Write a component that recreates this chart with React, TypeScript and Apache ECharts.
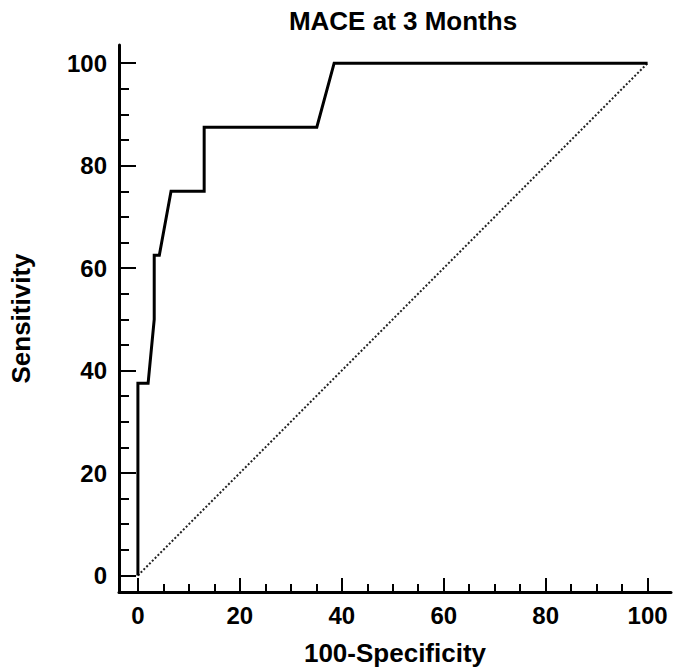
import React, { useEffect, useRef } from "react";
import * as echarts from "echarts";

const titleText = "MACE at 3 Months";
const xName = "100-Specificity";
const yName = "Sensitivity";

// ROC curve points (100-Specificity, Sensitivity)
const rocX = [0, 0, 2.0, 3.2, 3.2, 4.2, 6.5, 13.0, 13.0, 35.1, 38.5, 100];
const rocY = [0, 37.5, 37.5, 50, 62.5, 62.5, 75, 75, 87.5, 87.5, 100, 100];

// reference diagonal
const diagX = [0, 100];
const diagY = [0, 100];

const majorTicks = [0, 20, 40, 60, 80, 100];
const minorTicks = [5, 10, 15, 25, 30, 35, 45, 50, 55, 65, 70, 75, 85, 90, 95];

const FONT = "'Liberation Sans', Arial, sans-serif";

export default function App() {
  const ref = useRef<HTMLDivElement>(null);
  useEffect(() => {
    if (!ref.current) return;
    const chart = echarts.init(ref.current, null, { renderer: "svg" });
    const xMin = -3.71;
    const xMax = 104.59;
    const yMin = -3.23;
    const yMax = 103.55;
    const tickStyle = {
      fontFamily: FONT,
      fontWeight: "bold" as const,
      fontSize: 24,
      color: "#000",
    };
    const nameStyle = {
      fontFamily: FONT,
      fontWeight: "bold" as const,
      fontSize: 26,
      color: "#000",
    };
    const roc = rocX.map((x, i) => [x, rocY[i]]);
    const diag = diagX.map((x, i) => [x, diagY[i]]);
    chart.setOption({
      animation: false,
      backgroundColor: "#fff",
      title: {
        text: titleText,
        left: 398,
        textAlign: "center",
        top: 3,
        textStyle: { ...nameStyle },
      },
      grid: { left: 116, right: 2, top: 45, bottom: 78, containLabel: false },
      xAxis: [
        {
          type: "value",
          min: xMin,
          max: xMax,
          position: "bottom",
          name: xName,
          nameLocation: "middle",
          nameGap: 48,
          nameTextStyle: { ...nameStyle },
          axisLine: { show: true, onZero: false, lineStyle: { color: "#000", width: 3 } },
          axisTick: {
            show: true,
            inside: true,
            length: 14,
            customValues: majorTicks,
            lineStyle: { color: "#000", width: 2 },
          },
          axisLabel: { ...tickStyle, margin: 11, customValues: majorTicks },
          splitLine: { show: false },
        },
        {
          type: "value",
          min: xMin,
          max: xMax,
          position: "bottom",
          axisLine: { show: false, onZero: false },
          axisTick: {
            show: true,
            inside: true,
            length: 8,
            customValues: minorTicks,
            lineStyle: { color: "#000", width: 2 },
          },
          axisLabel: { show: false },
          splitLine: { show: false },
        },
      ],
      yAxis: [
        {
          type: "value",
          min: yMin,
          max: yMax,
          position: "left",
          name: yName,
          nameLocation: "middle",
          nameGap: 85,
          nameTextStyle: { ...nameStyle },
          axisLine: { show: true, onZero: false, lineStyle: { color: "#000", width: 3 } },
          axisTick: {
            show: true,
            inside: true,
            length: 17,
            customValues: majorTicks,
            lineStyle: { color: "#000", width: 2 },
          },
          axisLabel: { ...tickStyle, margin: 12, customValues: majorTicks },
          splitLine: { show: false },
        },
        {
          type: "value",
          min: yMin,
          max: yMax,
          position: "left",
          axisLine: { show: false, onZero: false },
          axisTick: {
            show: true,
            inside: true,
            length: 10,
            customValues: minorTicks,
            lineStyle: { color: "#000", width: 2 },
          },
          axisLabel: { show: false },
          splitLine: { show: false },
        },
      ],
      series: [
        {
          type: "line",
          xAxisIndex: 0,
          yAxisIndex: 0,
          data: diag,
          symbol: "none",
          silent: true,
          lineStyle: { color: "#222", width: 2, type: [2, 2] },
        },
        {
          type: "line",
          xAxisIndex: 0,
          yAxisIndex: 0,
          data: roc,
          symbol: "none",
          lineStyle: { color: "#000", width: 3, join: "miter" },
        },
      ],
    });
    return () => chart.dispose();
  }, []);
  return (
    <div
      ref={ref}
      style={{ position: "fixed", left: 0, top: 0, width: 673, height: 671, background: "#fff" }}
    />
  );
}
